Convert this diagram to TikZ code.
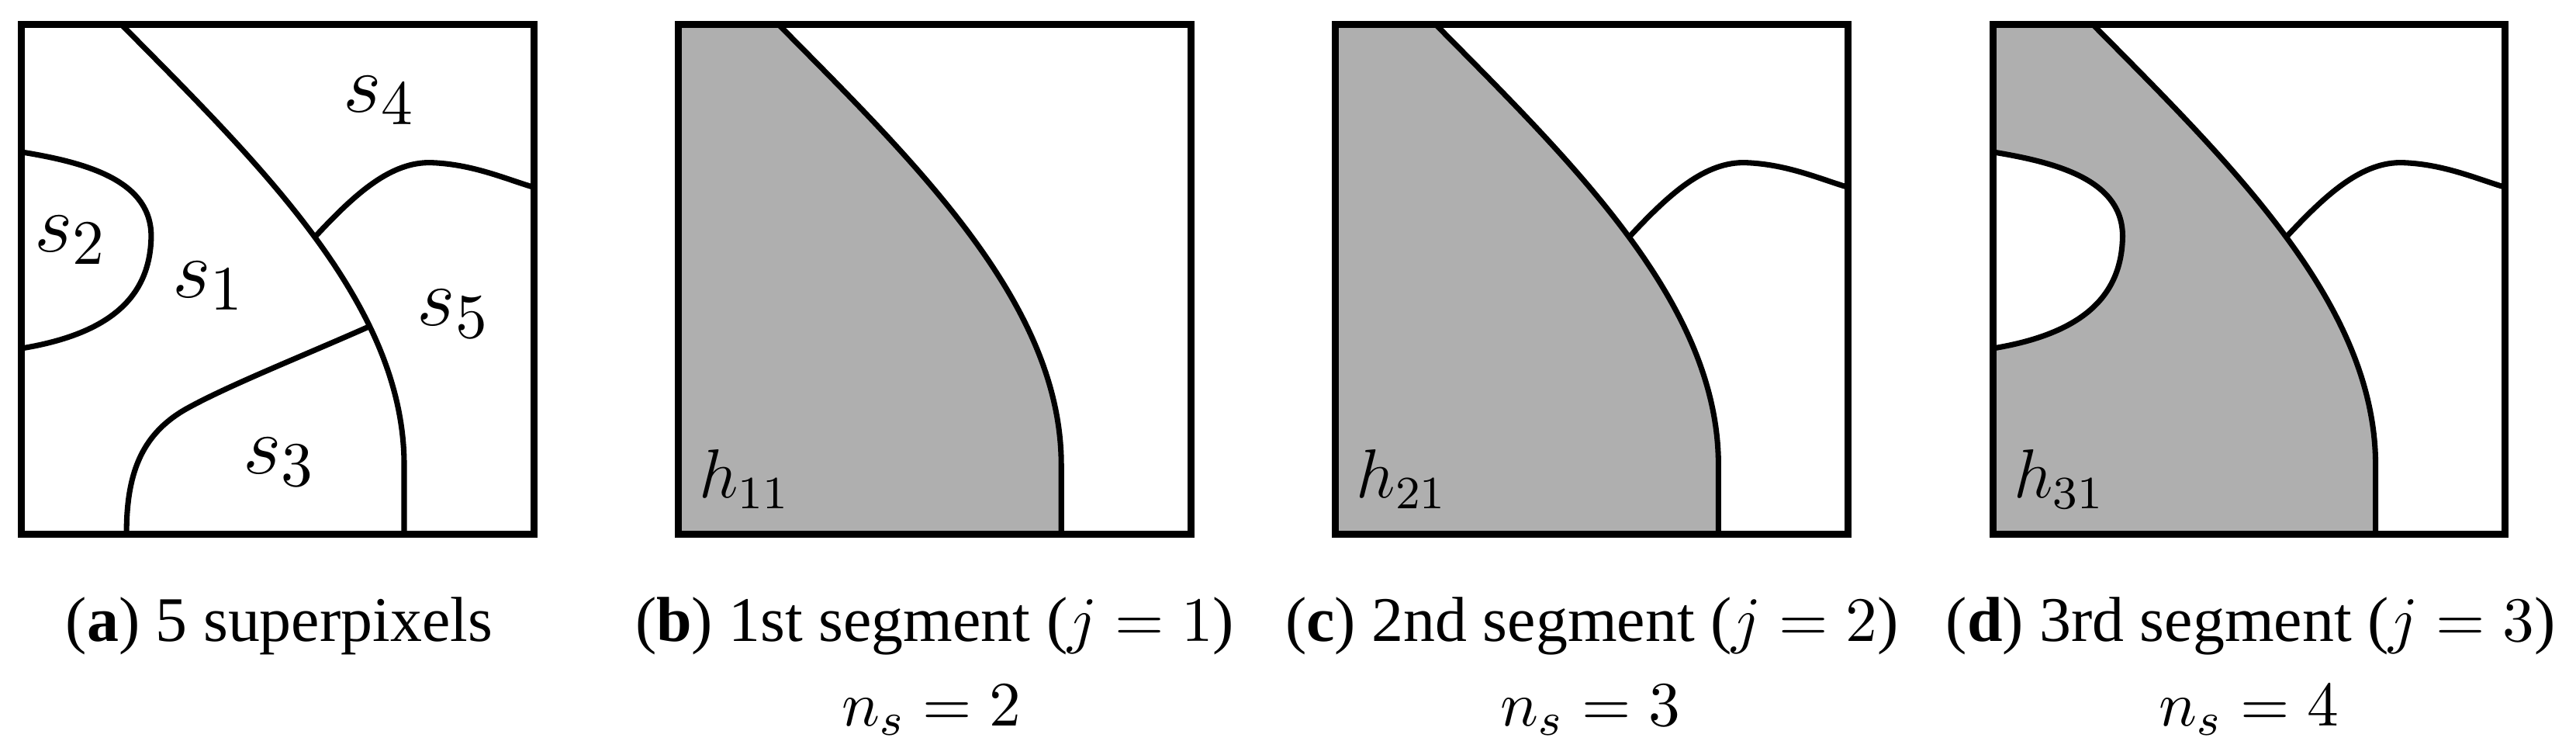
\documentclass[tikz,border=0pt]{standalone}
\usepackage{fontspec}
\setmainfont{Liberation Serif}
\usepackage{tikz}
\usetikzlibrary{positioning}
\definecolor{segfill}{HTML}{AFAFAF}
\newcommand\bigcurve{(61,0) .. controls (145,85) and (233,170) .. (233,268) -- (233,310)}
\newcommand\topcurve{(178.5,129.4) .. controls (203,103) and (225,83) .. (250,84) .. controls (275,85) and (295,94) .. (312,99)}
\newcommand\leftcurve{(0,77.5) .. controls (40,84) and (80,95) .. (79,130) .. controls (78,165) and (55,188) .. (0,197)}
\newcommand\lowcurve{(211.7,183.7) .. controls (168,203) and (125,220) .. (100,234) .. controls (72,250) and (64,275) .. (64,310)}

\begin{document}
\begin{tikzpicture}[x=0.1mm,y=-0.1mm,
  frame/.style={line width=1.2pt},
  edge/.style={line width=0.95pt},
  region/.style={font=\fontsize{15}{18}\selectfont,inner sep=0pt},
  hlabel/.style={font=\fontsize{11.5}{14}\selectfont,inner sep=0pt,anchor=base west},
  caption/.style={font=\fontsize{11}{13}\selectfont,inner sep=0pt}]
\useasboundingbox (0,0) rectangle (1568,459);

\begin{scope}[shift={(13,15)}]
\draw[edge] \bigcurve;
\draw[edge] \topcurve;
\draw[edge] \leftcurve;
\draw[edge] \lowcurve;
\draw[frame] (0,0) rectangle (312,310);
\node[region] (s4) at (218,46) {$s_4$};
\node[region] (s2) at (30,131) {$s_2$};
\node[region] (s1) at (114,159) {$s_1$};
\node[region] (s5) at (263,176) {$s_5$};
\node[region] (s3) at (157,266) {$s_3$};
\end{scope}

\begin{scope}[shift={(413,15)}]
\fill[segfill] \bigcurve -- (0,310) -- (0,0) -- cycle;
\draw[edge] \bigcurve;
\draw[frame] (0,0) rectangle (312,310);
\node[hlabel] (h11) at (12,288) {$h_{11}$};
\end{scope}

\begin{scope}[shift={(813,15)}]
\fill[segfill] \bigcurve -- (0,310) -- (0,0) -- cycle;
\draw[edge] \bigcurve;
\draw[edge] \topcurve;
\draw[frame] (0,0) rectangle (312,310);
\node[hlabel] (h21) at (12,288) {$h_{21}$};
\end{scope}

\begin{scope}[shift={(1213,15)}]
\fill[segfill] \bigcurve -- (0,310) -- (0,0) -- cycle;
\fill[white] \leftcurve -- cycle;
\draw[edge] \bigcurve;
\draw[edge] \topcurve;
\draw[edge] \leftcurve;
\draw[frame] (0,0) rectangle (312,310);
\node[hlabel] (h31) at (12,288) {$h_{31}$};
\end{scope}

\node[caption] (capa) at (170,381) {(\textbf{a}) 5 superpixels};
\node[caption] (capb) at (569,381) {(\textbf{b}) 1st segment ($j=1$)};
\node[caption] (capc) at (969,381) {(\textbf{c}) 2nd segment ($j=2$)};
\node[caption] (capd) at (1370,381) {(\textbf{d}) 3rd segment ($j=3$)};
\node[caption] (nsb) at (567,432) {$n_s=2$};
\node[caption] (nsc) at (968,432) {$n_s=3$};
\node[caption] (nsd) at (1369,432) {$n_s=4$};
\end{tikzpicture}
\end{document}
